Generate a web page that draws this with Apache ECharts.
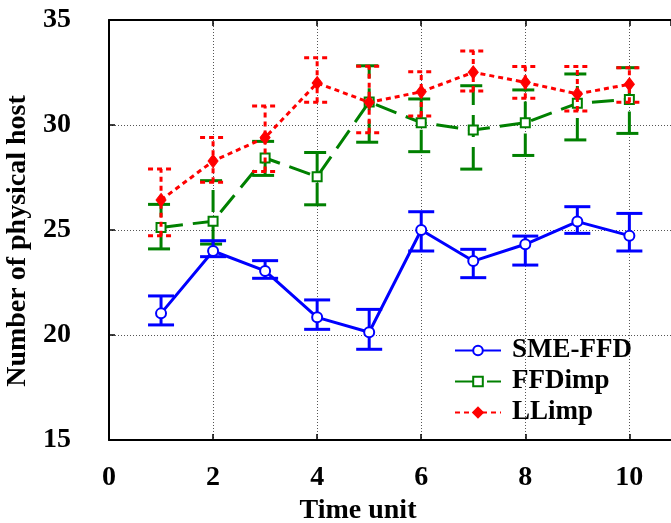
<!DOCTYPE html>
<html>
<head>
<meta charset="utf-8">
<script src="https://cdn.jsdelivr.net/npm/echarts@6/dist/echarts.min.js"></script>
<style>html,body{margin:0;padding:0;background:#fff}#c{width:671px;height:523px}</style>
</head>
<body>
<div id="c"></div>
<script>
const timeUnits = [1, 2, 3, 4, 5, 6, 7, 8, 9, 10];
const smeMean = [21.03, 24.0, 23.05, 20.84, 20.13, 25.0, 23.52, 24.32, 25.4, 24.73];
const smeLow  = [20.48, 23.73, 22.7, 20.27, 19.32, 24.0, 22.73, 23.33, 24.84, 24.0];
const smeHigh = [21.86, 24.49, 23.54, 21.67, 21.22, 25.87, 24.08, 24.71, 26.11, 25.79];
const ffdMean = [25.12, 25.42, 28.43, 27.54, 31.1, 30.11, 29.76, 30.11, 31.03, 31.22];
const ffdLow  = [24.1, 24.33, 27.6, 26.2, 29.18, 28.73, 27.9, 28.55, 29.29, 29.6];
const ffdHigh = [26.22, 27.35, 29.22, 28.69, 32.82, 31.24, 31.87, 31.67, 32.43, 32.73];
const llMean  = [26.43, 28.28, 29.4, 32.0, 31.08, 31.58, 32.51, 32.03, 31.48, 31.94];
const llLow   = [24.73, 27.27, 27.78, 31.08, 29.63, 30.43, 31.62, 31.27, 30.67, 31.08];
const llHigh  = [27.9, 29.4, 30.9, 33.2, 32.8, 32.54, 33.52, 32.78, 32.78, 32.73];
const xTicks = [0, 2, 4, 6, 8, 10];
const yTicks = [15, 20, 25, 30, 35];

const FONT = '"Liberation Serif", "Times New Roman", serif';
const BLUE = '#0000ff', GREEN = '#008000', RED = '#ff0000';
const GREEN_DASH = [22, 10];
const RED_DASH = [5, 4];

function pairs(m) { return timeUnits.map((x, i) => [x, m[i]]); }
function triples(lo, hi) { return timeUnits.map((x, i) => [x, lo[i], hi[i]]); }

function errSeries(name, lo, hi, color, dash, z) {
  return {
    type: 'custom', name: name, z: z,
    data: triples(lo, hi),
    encode: { x: 0, y: [1, 2] },
    silent: true,
    renderItem: function (params, api) {
      const x = api.value(0);
      const pLo = api.coord([x, api.value(1)]);
      const pHi = api.coord([x, api.value(2)]);
      const hw = 13;
      const style = { stroke: color, lineWidth: 3, lineDash: dash || null, fill: null };
      return {
        type: 'group',
        children: [
          { type: 'line', shape: { x1: pLo[0], y1: pLo[1], x2: pHi[0], y2: pHi[1] }, style: style },
          { type: 'line', shape: { x1: pLo[0] - hw, y1: pLo[1], x2: pLo[0] + hw, y2: pLo[1] }, style: style },
          { type: 'line', shape: { x1: pHi[0] - hw, y1: pHi[1], x2: pHi[0] + hw, y2: pHi[1] }, style: style }
        ]
      };
    }
  };
}

const chart = echarts.init(document.getElementById('c'), null, { renderer: 'canvas' });
const axisLabelStyle = { fontFamily: FONT, fontWeight: 'bold', fontSize: 28, color: '#000' };
const xCommon = {
  type: 'value', min: 0, max: 10.8, interval: 2
};
chart.setOption({
  animation: false,
  backgroundColor: '#fff',
  grid: { left: 109, right: 0, top: 20, bottom: 83, containLabel: false, outerBoundsMode: 'none' },
  legend: {
    data: ['SME-FFD', 'FFDimp', 'LLimp'],
    orient: 'vertical', left: 449, top: 332,
    itemWidth: 46, itemHeight: 12, itemGap: 4,
    textStyle: { fontFamily: FONT, fontWeight: 'bold', fontSize: 27, color: '#000', padding: [0, 0, 0, 6] }
  },
  xAxis: [
    Object.assign({}, xCommon, {
      position: 'bottom',
      name: 'Time unit', nameLocation: 'middle', nameGap: 49,
      nameTextStyle: { fontFamily: FONT, fontWeight: 'bold', fontSize: 28, color: '#000', padding: [0, 64, 0, 0] },
      axisLine: { show: true, onZero: false, lineStyle: { color: '#000', width: 2 } },
      axisTick: { show: true, inside: true, length: 6, lineStyle: { color: '#000', width: 1.5 } },
      axisLabel: Object.assign({ margin: 24, showMaxLabel: false,
        formatter: v => (xTicks.indexOf(v) >= 0 ? String(v) : '') }, axisLabelStyle),
      splitLine: { show: true, lineStyle: { color: '#555', width: 1, type: [1, 2] } }
    }),
    Object.assign({}, xCommon, {
      position: 'top',
      axisLine: { show: true, onZero: false, lineStyle: { color: '#000', width: 2 } },
      axisTick: { show: true, inside: true, length: 6, lineStyle: { color: '#000', width: 1.5 } },
      axisLabel: { show: false },
      splitLine: { show: false }
    })
  ],
  yAxis: {
    type: 'value', min: 15, max: 35, interval: 5,
    name: 'Number of physical host', nameLocation: 'middle', nameGap: 72, nameRotate: 90,
    nameTextStyle: { fontFamily: FONT, fontWeight: 'bold', fontSize: 28, color: '#000', padding: [0, 22, 0, 0] },
    axisLine: { show: true, onZero: false, lineStyle: { color: '#000', width: 2 } },
    axisTick: { show: true, inside: true, length: 6, lineStyle: { color: '#000', width: 1.5 } },
    axisLabel: Object.assign({ margin: 38, formatter: v => (yTicks.indexOf(v) >= 0 ? String(v) : '') }, axisLabelStyle),
    splitLine: { show: true, lineStyle: { color: '#555', width: 1, type: [1, 2] } }
  },
  series: [
    errSeries('ffd-err', ffdLow, ffdHigh, GREEN, GREEN_DASH, 2),
    {
      name: 'FFDimp', type: 'line', z: 3, data: pairs(ffdMean),
      symbol: 'emptyRect', symbolSize: 9,
      lineStyle: { color: GREEN, width: 3, type: GREEN_DASH },
      itemStyle: { color: GREEN, borderColor: GREEN, borderWidth: 2 }
    },
    errSeries('ll-err', llLow, llHigh, RED, RED_DASH, 4),
    {
      name: 'LLimp', type: 'line', z: 5, data: pairs(llMean),
      symbol: 'diamond', symbolSize: [10, 13],
      lineStyle: { color: RED, width: 3, type: RED_DASH },
      itemStyle: { color: RED, borderColor: RED, borderWidth: 1 }
    },
    errSeries('sme-err', smeLow, smeHigh, BLUE, null, 6),
    {
      name: 'SME-FFD', type: 'line', z: 7, data: pairs(smeMean),
      symbol: 'emptyCircle', symbolSize: 10,
      lineStyle: { color: BLUE, width: 3 },
      itemStyle: { color: BLUE, borderColor: BLUE, borderWidth: 2 }
    }
  ]
});
</script>
</body>
</html>
